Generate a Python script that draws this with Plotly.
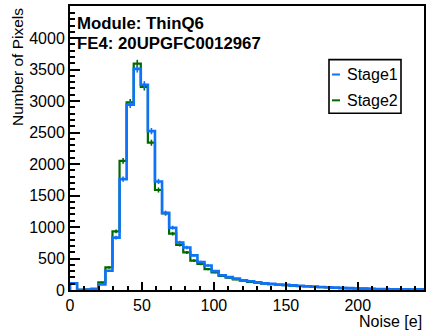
import numpy as np
import plotly.graph_objects as go

# Histogram binning (50 bins over the noise range)
N_BINS = 50
X_MIN, X_MAX = 0.0, 246.0

# Number of pixels per bin
stage1 = [105, 2, 8, 15, 89, 305, 831, 1761, 2944, 3512,
          3260, 2523, 1724, 1225, 989, 754, 675, 550, 445, 390,
          300, 235, 205, 180, 155, 138, 122, 105, 97, 88,
          82, 74, 67, 60, 54, 48, 43, 38, 33, 29,
          25, 22, 19, 16, 14, 12, 11, 10, 9, 10]
stage2 = [100, 3, 8, 20, 121, 358, 930, 2050, 2980, 3595,
          3225, 2339, 1588, 1215, 894, 717, 596, 465, 413, 330,
          281, 225, 195, 168, 148, 130, 116, 100, 92, 83,
          77, 70, 63, 57, 51, 45, 40, 35, 31, 27,
          24, 21, 18, 15, 13, 11, 10, 9, 8, 9]

series_names = ["Stage1", "Stage2"]
series_colors = ["rgb(15,115,250)", "rgb(0,105,0)"]

title_lines = ["Module: ThinQ6", "FE4: 20UPGFC0012967"]
x_title = "Noise [e]"
y_title = "Number of Pixels"

FONT = "Liberation Sans, Arial, Helvetica, sans-serif"

edges = np.linspace(X_MIN, X_MAX, N_BINS + 1)
centers = 0.5 * (edges[:-1] + edges[1:])


def step_xy(vals):
    """Outline of a ROOT-style histogram, closed down to zero at both ends."""
    xs = [edges[0]] + list(edges[:-1]) + [edges[-1], edges[-1]]
    ys = [0] + list(vals) + [vals[-1], 0]
    return xs, ys


fig = go.Figure()

# green first so the blue outline sits on top
for vals, color, width in [(stage2, series_colors[1], 2.2), (stage1, series_colors[0], 2.6)]:
    xs, ys = step_xy(vals)
    fig.add_trace(go.Scatter(x=xs, y=ys, mode="lines", line_shape="hv",
                             line=dict(color=color, width=width),
                             showlegend=False, hoverinfo="skip"))
    fig.add_trace(go.Scatter(x=centers, y=vals, mode="markers",
                             marker=dict(size=0.1, color=color),
                             error_y=dict(type="data", array=np.sqrt(vals),
                                          color=color, thickness=1.6, width=0),
                             showlegend=False, hoverinfo="skip"))

# hand-drawn legend box (ROOT TLegend style)
def px_x(p):
    return (p - 70) / 354.0


def px_y(p):
    return (290 - p) / 286.0


fig.add_shape(type="rect", xref="paper", yref="paper",
              x0=px_x(329), x1=px_x(401), y0=px_y(112), y1=px_y(58),
              line=dict(color="black", width=1.6), fillcolor="white")
for i, (name, color) in enumerate(zip(series_names, series_colors)):
    yc = px_y(73 + 26 * i)
    fig.add_shape(type="line", xref="paper", yref="paper",
                  x0=px_x(332), x1=px_x(340), y0=yc, y1=yc,
                  line=dict(color=color, width=2))
    fig.add_annotation(x=px_x(345), y=yc, xref="paper", yref="paper",
                       text=name, showarrow=False, xanchor="left", yanchor="middle",
                       font=dict(family=FONT, size=16, color="black"))

# module / FE labels
for i, line in enumerate(title_lines):
    fig.add_annotation(x=px_x(75), y=px_y(22 + 20 * i), xref="paper", yref="paper",
                       text="<b>%s</b>" % line, showarrow=False,
                       xanchor="left", yanchor="middle",
                       font=dict(family=FONT, size=16.8, color="black"))

# axis titles, ROOT puts them at the far end of each axis
fig.add_annotation(x=1.0, y=px_y(322), xref="paper", yref="paper", text=x_title,
                   showarrow=False, xanchor="right", yanchor="middle",
                   font=dict(family=FONT, size=16, color="black"))
fig.add_annotation(x=px_x(17), y=px_y(4), xref="paper", yref="paper", text=y_title,
                   textangle=-90, showarrow=False, xanchor="center", yanchor="top",
                   font=dict(family=FONT, size=15.5, color="black"))

fig.update_xaxes(range=[X_MIN, X_MAX], showgrid=False, zeroline=False,
                 showline=True, linecolor="black", linewidth=2, mirror=True,
                 ticks="inside", tickcolor="black", tickwidth=1.5, ticklen=8,
                 dtick=50, tick0=0,
                 minor=dict(ticks="inside", dtick=10, ticklen=4, tickcolor="black", tickwidth=1.5),
                 tickfont=dict(family=FONT, size=16, color="black"))
fig.update_yaxes(range=[0, 4510], showgrid=False, zeroline=False,
                 showline=True, linecolor="black", linewidth=2, mirror=True,
                 ticks="inside", tickcolor="black", tickwidth=1.5, ticklen=10,
                 dtick=500, tick0=0,
                 minor=dict(ticks="inside", dtick=100, ticklen=5, tickcolor="black", tickwidth=1.5),
                 tickfont=dict(family=FONT, size=16, color="black"))

fig.update_layout(width=431, height=336,
                  margin=dict(l=70, r=7, t=4, b=46),
                  plot_bgcolor="white", paper_bgcolor="white",
                  showlegend=False)

# drop the browser's default 8px body margin so the figure fills the window
fig.write_html("out.html", config={"displayModeBar": False},
               post_script="document.body.style.margin='0';")
